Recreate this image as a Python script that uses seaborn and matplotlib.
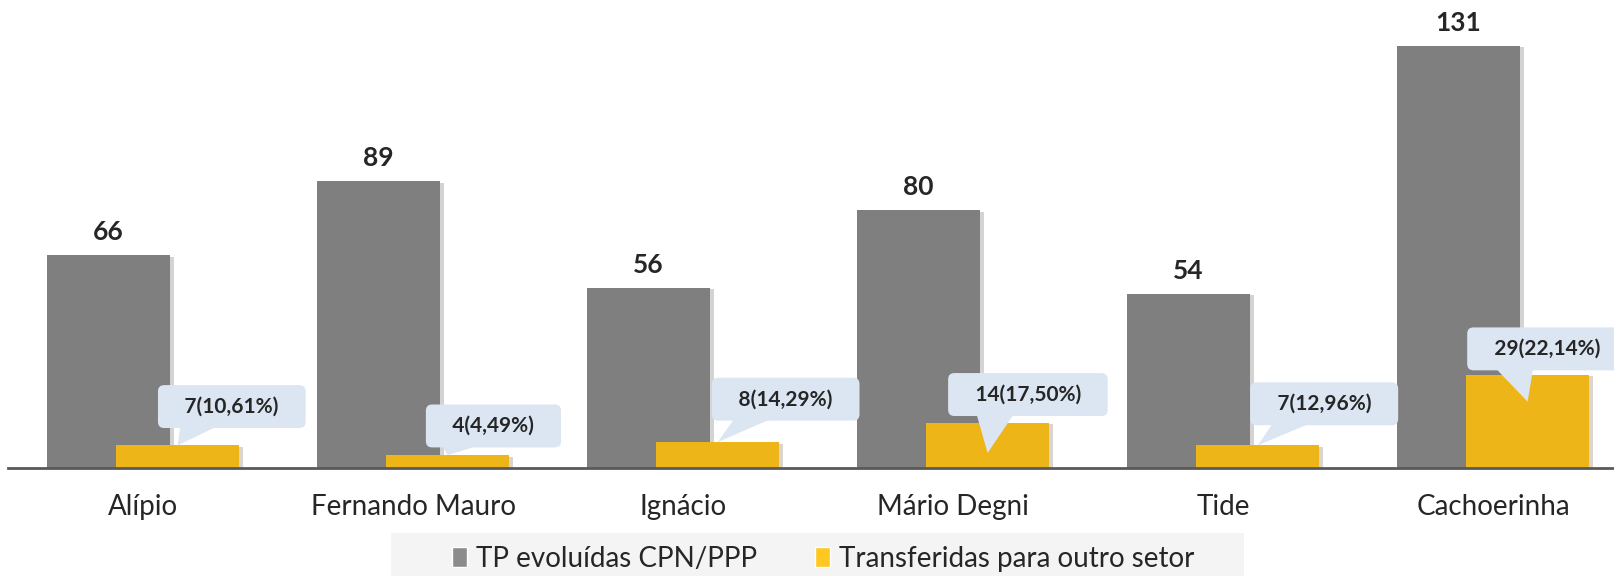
import matplotlib.pyplot as plt
import matplotlib.patheffects as pe
import matplotlib.transforms as mtrans
from matplotlib.patches import Patch, Rectangle, Polygon
import seaborn as sns

# dados
unidades = ['Alípio', 'Fernando Mauro', 'Ignácio', 'Mário Degni', 'Tide', 'Cachoerinha']
tp_evoluidas = [66, 89, 56, 80, 54, 131]
transferidas = [7, 4, 8, 14, 7, 29]
rotulos_transf = ['7(10,61%)', '4(4,49%)', '8(14,29%)', '14(17,50%)', '7(12,96%)', '29(22,14%)']
series = ['TP evoluídas CPN/PPP', 'Transferidas para outro setor']

# posicao dos baloes (offset em pontos) e quanto a ponta entra na barra
offset_balao = [(39, 28), (33, 21), (49, 31), (29, 42), (48, 30), (14, 38)]
ponta_baixo = [0, 0, 0, 9.3, 0, 8.4]

cinza = '#7f7f7f'
amarelo = '#edb518'
azul_balao = '#dce6f2'

sns.set_style('white')
plt.rcParams['font.family'] = ['Lato', 'DejaVu Sans']

fig = plt.figure(figsize=(16.14, 5.76), dpi=100)
ax = fig.add_axes([0.005, 0.1875, 0.995, 0.8125])

largura = 0.455
desloc = 0.128

sns.barplot(x=unidades, y=tp_evoluidas, color=cinza, saturation=1, width=largura,
            errorbar=None, linewidth=0, ax=ax)
sns.barplot(x=unidades, y=transferidas, color=amarelo, saturation=1, width=largura,
            errorbar=None, linewidth=0, ax=ax)

sombra = [pe.SimplePatchShadow(offset=(3, -1), alpha=0.2), pe.Normal()]
for p in ax.containers[0]:
    p.set_x(p.get_x() - desloc)
    p.set_path_effects(sombra)
for p in ax.containers[1]:
    p.set_x(p.get_x() + desloc)
    p.set_path_effects(sombra)

# valores em cima das barras cinzas
ax.bar_label(ax.containers[0], padding=8, fontsize=19, fontweight='bold')

# baloes das transferidas (caixa + cauda apontando para a barra)
for i, (rot, v) in enumerate(zip(rotulos_transf, transferidas)):
    barra = ax.containers[1][i]
    xc = barra.get_x() + barra.get_width() / 2
    yp = v - ponta_baixo[i]
    dx, dy = offset_balao[i]
    ax.annotate('   ' + rot + '   ', xy=(xc, yp),
                xytext=(dx, dy), textcoords='offset points',
                ha='center', va='center', fontsize=15, fontweight='bold',
                bbox=dict(boxstyle='round,pad=0.55,rounding_size=0.3', fc=azul_balao, ec='none'),
                zorder=5)
    # cauda: vertices em polegadas relativos a ponta
    trans = fig.dpi_scale_trans + mtrans.ScaledTranslation(xc, yp, ax.transData)
    cauda = Polygon([(0, 0), ((dx - 37) / 72, (dy - 14) / 72), ((dx - 10) / 72, (dy - 14) / 72)],
                    closed=True, transform=trans, fc=azul_balao, ec='none', zorder=4)
    ax.add_artist(cauda)

ax.set_xlim(-0.5, 5.448)
ax.set_ylim(0, 145.3)
ax.set_yticks([])
ax.set_xlabel('')
ax.set_ylabel('')
ax.tick_params(axis='x', length=0, pad=19, labelsize=20)
for s in ['top', 'left', 'right']:
    ax.spines[s].set_visible(False)
ax.spines['bottom'].set_color('#595959')
ax.spines['bottom'].set_linewidth(2)

# legenda com fundo cinza claro
fig.add_artist(Rectangle((0.242, 0), 0.529, 0.075, transform=fig.transFigure,
                         fc='#f4f4f4', ec='none', zorder=0))
handles = [Patch(fc='#8c8c8c'), Patch(fc='#ffc820')]
fig.legend(handles, series, loc='center', bbox_to_anchor=(0.51, 0.03), ncol=2,
           frameon=False, fontsize=20, handlelength=0.55, handleheight=0.7,
           handletextpad=0.3, columnspacing=2.1)

fig.savefig('out.png', dpi=100)
